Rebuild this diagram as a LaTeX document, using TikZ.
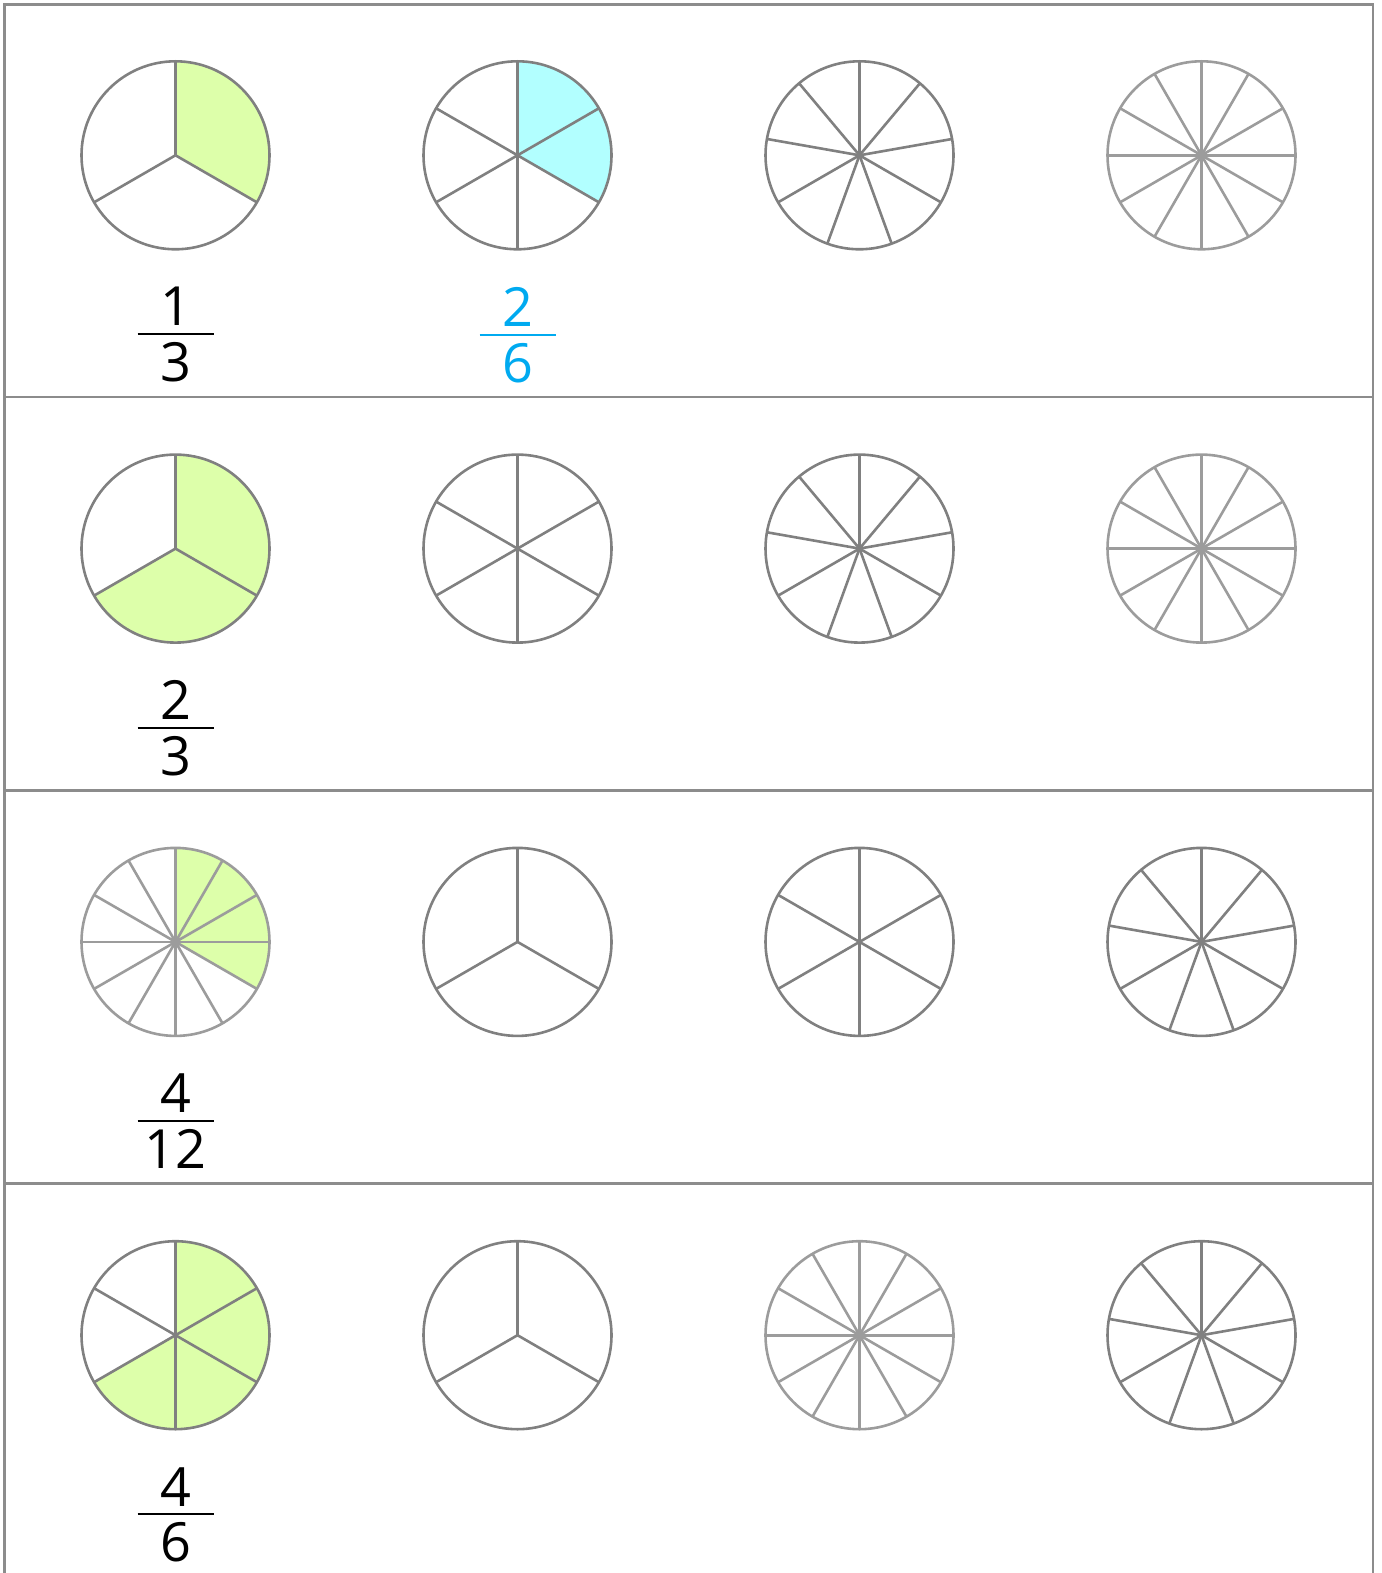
\documentclass[tikz,border=0pt]{standalone}
\usepackage{fontspec}
\setmainfont{Open Sans}
\usepackage{tikz}
\usetikzlibrary{positioning, calc}
\definecolor{piegray}{RGB}{128,128,128}
\definecolor{lightpie}{RGB}{156,156,156}
\definecolor{framegray}{RGB}{140,140,140}
\definecolor{limefill}{RGB}{221,255,170}
\definecolor{aquafill}{RGB}{178,255,255}
\definecolor{fracblue}{RGB}{0,170,240}

\begin{document}
\begin{tikzpicture}[
  x=0.5pt, y=0.5pt,
  pie/.style={circle, line width=1.3pt, minimum size=94pt, inner sep=0pt},
  spoke/.style={line width=1.3pt},
  frame/.style={draw=framegray, line width=1.2pt},
  digit/.style={inner sep=0pt, font=\fontsize{27}{32}\selectfont},
  bar/.style={line width=0.8pt},
]
\useasboundingbox (0,0) rectangle (1381,-1573);

% Frame and rows
\draw[frame] (4.5,-4.5) rectangle (1373,-1600);
\foreach \y in {397,790.3,1183.6}
  \draw[frame] (4.5,-\y) -- (1373,-\y);

% Pies: row/col/parts/shaded/fill/stroke
\foreach \r/\c/\n/\k/\fc/\sc in {
  1/1/3/1/limefill/piegray, 1/2/6/2/aquafill/piegray, 1/3/9/0/white/piegray, 1/4/12/0/white/lightpie,
  2/1/3/2/limefill/piegray, 2/2/6/0/white/piegray, 2/3/9/0/white/piegray, 2/4/12/0/white/lightpie,
  3/1/12/4/limefill/lightpie, 3/2/3/0/white/piegray, 3/3/6/0/white/piegray, 3/4/9/0/white/piegray,
  4/1/6/4/limefill/piegray, 4/2/3/0/white/piegray, 4/3/12/0/white/lightpie, 4/4/9/0/white/piegray}{
  \coordinate (o\r\c) at ({175.5+342*(\c-1)}, {-155.3-393.3*(\r-1)});
  \ifnum\k>0
    \fill[\fc] (o\r\c) -- ++(90:47pt) arc[start angle=90, delta angle={-360*\k/\n}, radius=47pt] -- cycle;
  \fi
  \foreach \i in {1,...,\n}
    \draw[spoke, \sc] (o\r\c) -- ++({90-360*(\i-1)/\n}:47pt);
  \node[pie, draw=\sc] (pie\r\c) at (o\r\c) {};
}

% Fractions
\foreach \r/\c/\a/\b/\tc in {1/1/1/3/black, 1/2/2/6/fracblue, 2/1/2/3/black, 3/1/4/12/black, 4/1/4/6/black}{
  \node[digit, text=\tc, below=18.2pt of pie\r\c] (num\r\c) {\a};
  \node[digit, text=\tc, below=7.8pt of num\r\c] (den\r\c) {\b};
  \draw[bar, \tc] ($(num\r\c.south)!0.5!(den\r\c.north)$) +(-38,0) -- +(38,0);
}

\end{tikzpicture}
\end{document}
